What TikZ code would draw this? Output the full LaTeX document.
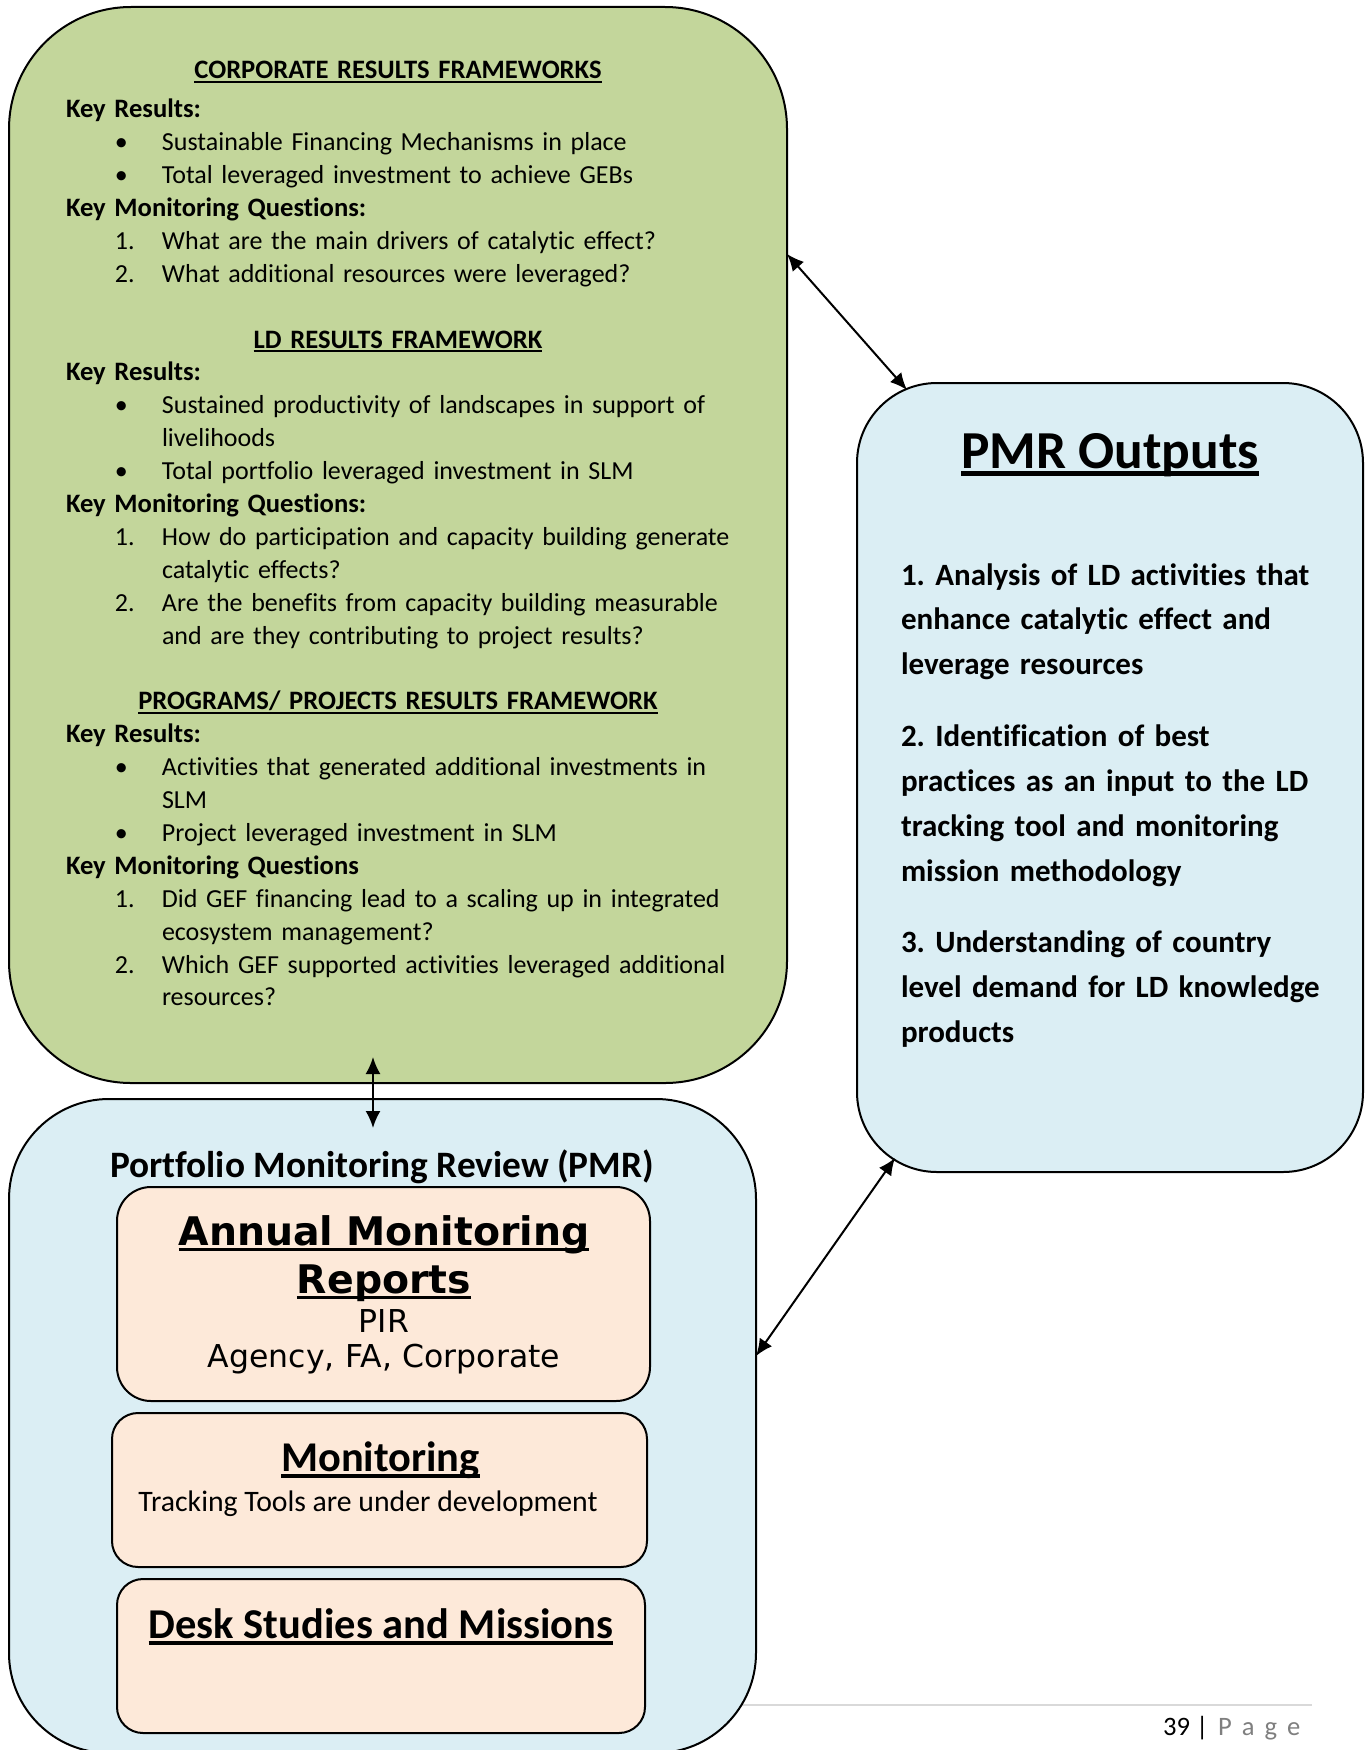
\documentclass[tikz,border=0pt]{standalone}
\usepackage{fontspec}
\setmainfont{Carlito}[Ligatures={NoCommon}]
\newfontfamily\verdfont{DejaVu Sans}[Ligatures={NoCommon}]
\usetikzlibrary{calc,arrows.meta}
\definecolor{boxgreen}{HTML}{C3D69B}
\definecolor{boxblue}{HTML}{DBEEF4}
\definecolor{boxpeach}{HTML}{FDE9D9}
\definecolor{pagegray}{HTML}{7F7F7F}
\definecolor{rulegray}{HTML}{D9D9D9}
\frenchspacing
\def\ulx#1{\leavevmode\setbox0\hbox{#1}\rlap{\rule[-0.155em]{\wd0}{0.09em}}\box0}
\newcommand{\kbold}[1]{{\fontsize{13.3}{16.4}\selectfont\bfseries #1}}
\newcommand{\khead}[1]{\makebox[332pt]{\kbold{\ulx{#1}}}}
\newcommand{\kitem}[2]{\hspace*{24.5pt}\makebox[23.5pt][l]{#1}#2}
\newcommand{\kcont}[1]{\hspace*{48pt}#1}
\tikzset{
	panel/.style={draw=black, line width=1pt, inner sep=0pt, outer sep=0pt},
	link/.style={{Latex[length=8.5pt,width=7.5pt]}-{Latex[length=8.5pt,width=7.5pt]}, line width=1pt},
	txt/.style={inner sep=0pt, outer sep=0pt}
}

\begin{document}
\begin{tikzpicture}[x=0.5pt, y=-0.5pt]
			%%%%% START %%%%%
			\useasboundingbox (0,0) rectangle (1367,1750);
			
			\draw[rulegray, line width=1pt] (740,1705) -- (1312,1705);
			\node[txt, anchor=base west, font={\fontsize{13.3}{16}\selectfont}] (pagenum) at (1163,1735) {39 |\hspace{5pt}\textcolor{pagegray}{P\hspace{5pt}a\hspace{5pt}g\hspace{5pt}e}};
			
			\node[panel, fill=boxgreen, rounded corners=61pt, minimum width=389pt, minimum height=538pt] (green) at (398,545) {};
			\node[panel, fill=boxblue, rounded corners=40pt, minimum width=253pt, minimum height=394.5pt] (outputs) at (1110,777.5) {};
			\node[panel, fill=boxblue, rounded corners=50pt, minimum width=373.5pt, minimum height=327pt] (pmrbox) at (382.5,1426) {};
			\node[panel, fill=boxpeach, rounded corners=17pt, minimum width=266.5pt, minimum height=107pt] (amr) at (383.5,1294) {};
			\node[panel, fill=boxpeach, rounded corners=13pt, minimum width=267.5pt, minimum height=77pt] (mon) at (379.5,1490) {};
			\node[panel, fill=boxpeach, rounded corners=13pt, minimum width=264pt, minimum height=77pt] (desk) at (381,1656) {};
			
			% results frameworks
			\node[txt, anchor=base west, text width=345pt, align=left, font={\fontsize{13}{16.45}\selectfont}] (frames) at (66,79) {%
				\khead{CORPORATE RESULTS FRAMEWORKS}\\[3pt]
				\kbold{Key Results:}\\
				\kitem{\textbullet}{Sustainable Financing Mechanisms in place}\\
				\kitem{\textbullet}{Total leveraged investment to achieve GEBs}\\
				\kbold{Key Monitoring Questions:}\\
				\kitem{1.}{What are the main drivers of catalytic effect?}\\
				\kitem{2.}{What additional resources were leveraged?}\\[16.4pt]
				\khead{LD RESULTS FRAMEWORK}\\
				\kbold{Key Results:}\\
				\kitem{\textbullet}{Sustained productivity of landscapes in support of}\\
				\kcont{livelihoods}\\
				\kitem{\textbullet}{Total portfolio leveraged investment in SLM}\\
				\kbold{Key Monitoring Questions:}\\
				\kitem{1.}{How do participation and capacity building generate}\\
				\kcont{catalytic effects?}\\
				\kitem{2.}{Are the benefits from capacity building measurable}\\
				\kcont{and are they contributing to project results?}\\[16.4pt]
				\khead{PROGRAMS/ PROJECTS RESULTS FRAMEWORK}\\
				\kbold{Key Results:}\\
				\kitem{\textbullet}{Activities that generated additional investments in}\\
				\kcont{SLM}\\
				\kitem{\textbullet}{Project leveraged investment in SLM}\\
				\kbold{Key Monitoring Questions}\\
				\kitem{1.}{Did GEF financing lead to a scaling up in integrated}\\
				\kcont{ecosystem management?}\\
				\kitem{2.}{Which GEF supported activities leveraged additional}\\
				\kcont{resources?}};
			
			% outputs
			\node[txt, anchor=base, font={\bfseries\fontsize{26.7}{32}\selectfont}] (outtitle) at (1110,468) {\ulx{PMR Outputs}};
			\node[txt, anchor=base west, text width=230pt, align=left, font={\bfseries\fontsize{15.5}{22.45}\selectfont}] (outlist) at (901,585) {%
				1. Analysis of LD activities that\\
				enhance catalytic effect and\\
				leverage resources\\[13.3pt]
				2. Identification of best\\
				practices as an input to the LD\\
				tracking tool and monitoring\\
				mission methodology\\[13.3pt]
				3. Understanding of country\\
				level demand for LD knowledge\\
				products};
			
			% review
			\node[txt, anchor=base, font={\bfseries\fontsize{18.65}{22}\selectfont}] (pmrtitle) at (382,1177) {Portfolio Monitoring Review (PMR)};
			\node[txt, anchor=base, text width=260pt, align=center, font={\verdfont\bfseries\fontsize{19.7}{24}\selectfont}] (amrtitle) at (384,1245) {\ulx{Annual Monitoring}\\ \ulx{Reports}};
			\node[txt, anchor=base, text width=260pt, align=center, font={\verdfont\fontsize{15.75}{17.5}\selectfont}] (amrsub) at (384,1332) {PIR\\ Agency, FA, Corporate};
			\node[txt, anchor=base, font={\bfseries\fontsize{21.2}{25}\selectfont}] (montitle) at (380.5,1471) {\ulx{Monitoring}};
			\node[txt, anchor=base, font={\fontsize{14.87}{17}\selectfont}] (monsub) at (368,1511) {Tracking Tools are under development};
			\node[txt, anchor=base, font={\bfseries\fontsize{21.25}{25}\selectfont}] (desktitle) at (381,1638) {\ulx{Desk Studies and Missions}};
			
			\draw[link] ($(green.north east)!0.2295!(green.south east)$) -- ($(outputs.north west)+(50,7)$);
			\draw[link] ($(green.south)+(-25,-26)$) -- ($(pmrbox.north)+(-9.5,29)$);
			\draw[link] ($(pmrbox.north east)+(0,257)$) -- ($(outputs.south west)+(38,-14)$);
			
			%%%%% END %%%%%
		\end{tikzpicture}
\end{document}
